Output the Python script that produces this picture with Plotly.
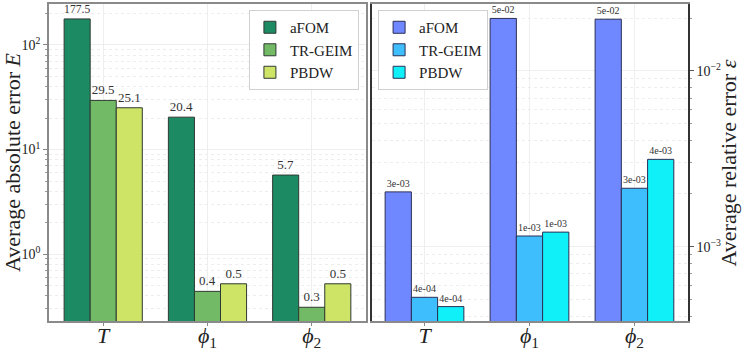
import plotly.graph_objects as go

# ---------------------------------------------------------------------------
# Data
# ---------------------------------------------------------------------------
CATEGORIES = ["<i>T</i>", "<i>ϕ</i><sub>1</sub>", "<i>ϕ</i><sub>2</sub>"]
METHODS = ["aFOM", "TR-GEIM", "PBDW"]

# absolute error E (left panel)
ABS_AFOM = [177.5, 20.4, 5.7]
ABS_TRGEIM = [29.5, 0.44, 0.31]
ABS_PBDW = [25.1, 0.52, 0.52]

# relative error ε (right panel): bar heights as drawn, labels as printed
REL_AFOM = [2.05e-3, 1.99e-2, 1.97e-2]
REL_TRGEIM = [5.15e-4, 1.15e-3, 2.15e-3]
REL_PBDW = [4.56e-4, 1.21e-3, 3.14e-3]
REL_AFOM_TXT = ["3e-03", "5e-02", "5e-02"]
REL_TRGEIM_TXT = ["4e-04", "1e-03", "3e-03"]
REL_PBDW_TXT = ["4e-04", "1e-03", "4e-03"]

# log tick labels
ABS_TICKS = [1, 10, 100]
ABS_TICKTEXT = ["10<sup>0</sup>", "10<sup>1</sup>", "10<sup>2</sup>"]
REL_TICKS = [1e-3, 1e-2]
REL_TICKTEXT = ["10<sup>−3</sup>", "10<sup>−2</sup>"]

GREENS = ["#1c8a63", "#73ba66", "#cde466"]
BLUES = ["#7088ff", "#3ebefc", "#10f0f8"]

FONT = "Liberation Serif"
EDGE = "#2f3a33"


def minor_vals(lo, hi):
    return [m * 10.0 ** e for e in range(lo, hi) for m in range(2, 10)]


fig = go.Figure()

abs_series = [ABS_AFOM, ABS_TRGEIM, ABS_PBDW]
for name, vals, col in zip(METHODS, abs_series, GREENS):
    fig.add_trace(go.Bar(
        x=CATEGORIES, y=vals, name=name,
        marker=dict(color=col, line=dict(color=EDGE, width=1)),
        text=[f"{v:.1f}" for v in vals], textposition="outside",
        textfont=dict(size=13, color="#333", family=FONT), cliponaxis=False,
        xaxis="x", yaxis="y", legend="legend",
    ))

rel_series = [(REL_AFOM, REL_AFOM_TXT), (REL_TRGEIM, REL_TRGEIM_TXT),
              (REL_PBDW, REL_PBDW_TXT)]
for name, (vals, txt), col in zip(METHODS, rel_series, BLUES):
    fig.add_trace(go.Bar(
        x=CATEGORIES, y=vals, name=name,
        marker=dict(color=col, line=dict(color="#2b2f55", width=1)),
        text=txt, textposition="outside",
        textfont=dict(size=10, color="#333", family=FONT), cliponaxis=False,
        xaxis="x2", yaxis="y2", legend="legend2",
    ))

frame = dict(showline=True, mirror=True, linecolor="#8a8a8a", linewidth=1.5,
             showgrid=True, gridcolor="#eeeeee", automargin=False)
xticks = dict(ticks="outside", ticklen=3, tickcolor="#888",
              ticklabelstandoff=-9,
              tickfont=dict(size=22, family=FONT))

fig.update_layout(
    width=747, height=351,
    margin=dict(l=49, r=59, t=4, b=30),
    paper_bgcolor="white", plot_bgcolor="white",
    font=dict(family=FONT, size=14, color="#222"),
    barmode="group", bargap=0.25, bargroupgap=0,
    xaxis=dict(domain=[0, 0.496], range=[-0.52, 2.52], **frame, **xticks),
    yaxis=dict(type="log", range=[-0.64, 2.392],
               tickvals=ABS_TICKS, ticktext=ABS_TICKTEXT,
               ticks="outside", ticklen=4, tickcolor="#888",
               tickfont=dict(size=14, family=FONT), **frame,
               minor=dict(tickvals=minor_vals(-1, 3), showgrid=True,
                          gridcolor="#ededed", griddash="dot",
                          ticks="outside", ticklen=2, tickcolor="#999"),
               title=dict(text="Average absolute error <i>E</i>",
                          font=dict(size=22, family=FONT), standoff=6)),
    xaxis2=dict(domain=[0.5055, 1], range=[-0.5, 2.51], anchor="y2",
                **frame, **xticks),
    yaxis2=dict(type="log", range=[-3.423, -1.619], anchor="x2", side="right",
                tickvals=REL_TICKS, ticktext=REL_TICKTEXT,
                ticks="outside", ticklen=4, tickcolor="#555",
                tickfont=dict(size=14, family=FONT),
                showline=True, mirror=True, linecolor="#333", linewidth=1.5,
                showgrid=True, gridcolor="#eeeeee", automargin=False,
                minor=dict(tickvals=minor_vals(-4, -1), showgrid=True,
                           gridcolor="#ededed", griddash="dot",
                           ticks="outside", ticklen=2, tickcolor="#999")),
    annotations=[dict(
        text="Average relative error <i>ε</i>", textangle=-90,
        xref="paper", yref="paper", x=1.064, y=0.5,
        xanchor="center", yanchor="middle", showarrow=False,
        font=dict(size=22, family=FONT, color="#222"),
    )],
    legend=dict(x=0.485, y=0.981, xanchor="right", yanchor="top",
                bgcolor="rgba(255,255,255,0.9)", bordercolor="#d0d0d0",
                borderwidth=1, font=dict(size=15, family=FONT),
                itemwidth=30, tracegroupgap=0),
    legend2=dict(x=0.515, y=0.981, xanchor="left", yanchor="top",
                 bgcolor="rgba(255,255,255,0.9)", bordercolor="#d0d0d0",
                 borderwidth=1, font=dict(size=15, family=FONT),
                 itemwidth=30, tracegroupgap=0),
)

# the page body has a default 8px margin; drop it so the figure sits at 0,0
fig.write_html("out.html", config={"displayModeBar": False},
               post_script="document.body.style.margin='0';")
